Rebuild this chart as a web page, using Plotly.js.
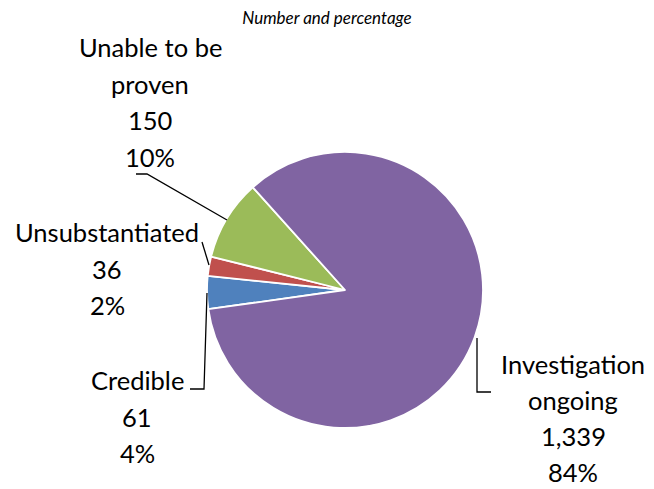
<!DOCTYPE html>
<html>
<head>
<meta charset="utf-8">
<script src="https://cdn.plot.ly/plotly-3.0.1.min.js"></script>
<style>html,body{margin:0;padding:0;background:#fff}#chart{width:654px;height:489px}</style>
</head>
<body>
<div id="chart"></div>
<script>
// ---- data ----
const categories = ['Credible', 'Unsubstantiated', 'Unable to be proven', 'Investigation ongoing'];
const values = [61, 36, 150, 1339];
const valueLabels = ['61', '36', '150', '1,339'];
const pctLabels = ['4%', '2%', '10%', '84%'];
const colors = ['#4F81BD', '#C0504D', '#9BBB59', '#8064A2'];

// ---- layout helpers ----
const W = 654, H = 489;
const px = x => x / W;
const py = y => 1 - y / H;
const cx = 345, cy = 290, R = 138;

// label line-wrapping and positions (pixel coords of each text block)
const nameLines = [['Credible'], ['Unsubstantiated'], ['Unable to be', 'proven'], ['Investigation', 'ongoing']];
const labelPos = [
  {x: 137, y: 380, step: 36.5},
  {x: 107, y: 232, step: 36.5},
  {x: 150, y: 47, step: 36.7},
  {x: 573, y: 364, step: 36}
];
const leaders = [
  [[190, 389], [204, 389], [207, 293]],
  [[202, 242], [209, 265]],
  [[136, 174], [147, 174], [227, 220]],
  [[491, 392], [477, 392], [477, 338]]
];

const font = 'Lato, "Open Sans", sans-serif';
const annotations = [];
categories.forEach((c, i) => {
  const lines = nameLines[i].concat([valueLabels[i], pctLabels[i]]);
  lines.forEach((t, k) => {
    annotations.push({
      xref: 'paper', yref: 'paper',
      x: px(labelPos[i].x), y: py(labelPos[i].y + k * labelPos[i].step),
      xanchor: 'center', yanchor: 'middle',
      text: t, showarrow: false,
      font: {family: font, size: 25.5, color: '#000'}
    });
  });
});

const shapes = leaders.map(pts => ({
  type: 'path', xref: 'paper', yref: 'paper',
  path: pts.map((p, k) => (k ? 'L' : 'M') + px(p[0]) + ',' + py(p[1])).join(' '),
  line: {color: '#000', width: 1.3}
}));

const trace = {
  type: 'pie',
  labels: categories,
  values: values,
  sort: false,
  direction: 'clockwise',
  rotation: 262,
  textinfo: 'none',
  hoverinfo: 'label+value+percent',
  marker: {colors: colors, line: {color: '#fff', width: 1.8}},
  domain: {x: [px(cx - R), px(cx + R)], y: [py(cy + R), py(cy - R)]},
  showlegend: false
};

const layout = {
  width: W, height: H,
  margin: {l: 0, r: 0, t: 0, b: 0},
  paper_bgcolor: '#fff',
  title: {text: '<i>Number and percentage</i>', x: 327 / W, xanchor: 'center', y: py(18), yanchor: 'middle',
          font: {family: font, size: 17, color: '#000'}},
  annotations: annotations,
  shapes: shapes,
  showlegend: false
};

Plotly.newPlot('chart', [trace], layout, {displayModeBar: false, staticPlot: true});
</script>
</body>
</html>
